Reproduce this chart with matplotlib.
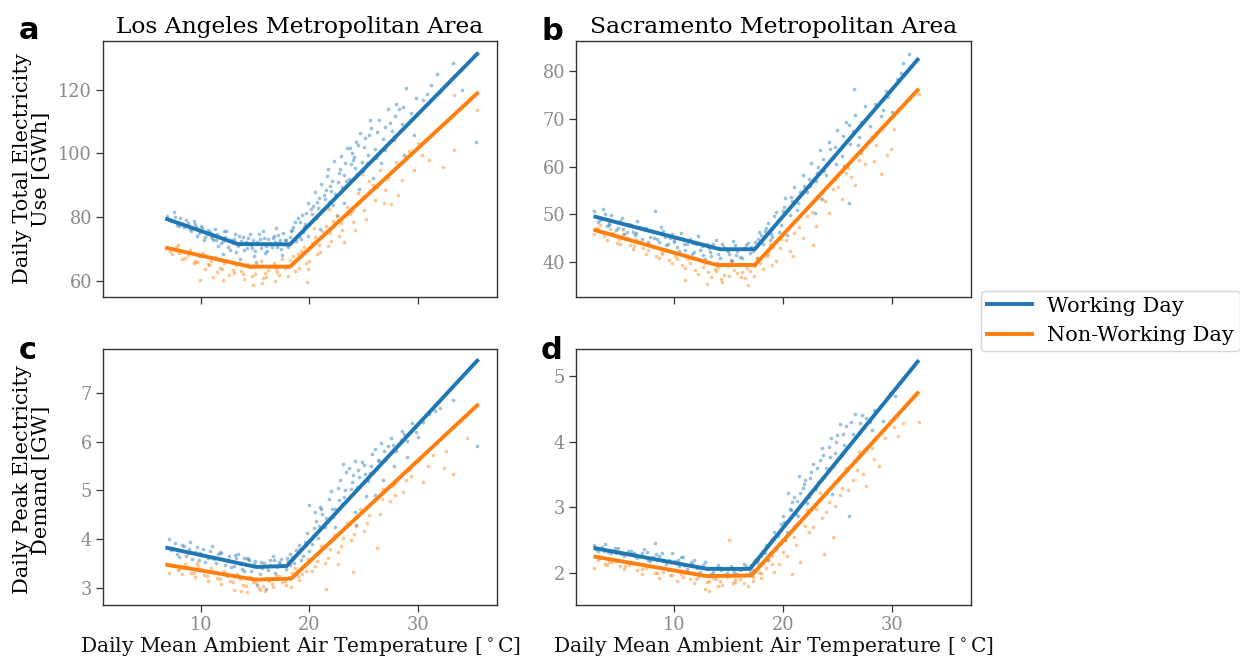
import matplotlib
matplotlib.use("Agg")
import matplotlib.pyplot as plt
from matplotlib.lines import Line2D

# ---------------- data ----------------
series_labels = ["Working Day", "Non-Working Day"]
titles = ["Los Angeles Metropolitan Area", "Sacramento Metropolitan Area"]
ylabels = ["Daily Total Electricity\nUse [GWh]", "Daily Peak Electricity\nDemand [GW]"]
xlabel = r"Daily Mean Ambient Air Temperature [$^\circ$C]"
panel_letters = ["a", "b", "c", "d"]
xticks = [10, 20, 30]

# Panel a: LA total use [GWh]
a_wd_T = [6.9, 7.2, 7.5, 7.8, 8.1, 8.4, 8.8, 9.1, 9.4, 9.8, 10.1, 10.4, 10.8, 11.1, 11.5, 11.8, 12.2, 12.5,
          12.8, 13.1, 13.4, 13.7, 14.0, 14.3, 14.6, 14.9, 15.2, 15.5, 15.8, 16.1, 16.4, 16.7, 17.0, 17.3,
          17.6, 17.9, 18.2, 18.5, 18.8, 19.1, 19.4, 19.7, 20.0, 20.3, 20.6, 20.9, 21.2, 21.5, 21.8, 22.1,
          22.4, 22.7, 23.0, 23.3, 23.6, 23.9, 24.2, 24.5, 24.8, 25.1, 25.4, 25.7, 26.0, 26.4, 26.8, 27.2,
          27.6, 28.0, 28.5, 28.9, 29.4, 29.8, 30.5, 31.2, 32.0, 33.2, 34.1, 35.4, 23.2, 24.6, 25.9, 21.0,
          22.5, 13.6, 15.1, 12.0, 16.9, 19.9, 21.6, 23.7,
          7.0, 7.6, 8.0, 8.6, 9.0, 9.3, 9.6, 10.0, 10.3, 10.6, 11.0, 11.3, 11.6, 12.0, 12.3, 12.7, 13.0,
          13.3, 13.9, 14.2, 14.5, 14.8, 15.0, 15.3, 15.6, 15.9, 16.2, 16.5, 16.8, 17.1, 17.4, 17.7, 18.0,
          18.3, 18.7, 19.0, 19.3, 19.6, 19.9, 20.2, 20.5, 20.8, 21.1, 21.4, 21.7, 22.0, 22.3, 22.6, 22.9,
          23.2, 23.5, 23.8, 24.1, 24.4, 24.7, 25.0, 25.3, 25.6, 26.2, 26.6, 27.0, 27.4, 27.8, 28.3, 28.7,
          9.5, 10.5, 11.4, 12.1, 12.9, 13.5, 14.1, 14.7, 15.4, 16.0, 16.6, 17.2, 17.8, 18.4, 18.9, 19.5,
          20.1, 20.7, 21.3, 21.9, 22.2, 22.8, 23.4, 24.0, 24.3, 24.9, 25.5, 26.1, 27.0, 27.9, 28.6, 29.6,
          30.8, 31.8, 8.3, 10.9, 13.2, 15.7, 17.5, 19.2]
a_wd_V = [80.5, 78.8, 81.5, 77.6, 79.6, 76.9, 78.2, 75.8, 77.9, 74.9, 76.6, 73.8, 75.4, 72.9, 74.6, 71.8, 73.9, 70.6,
          72.8, 74.8, 70.9, 72.6, 69.8, 73.4, 71.2, 67.9, 72.1, 70.3, 73.6, 69.5, 71.9, 74.2, 70.7, 72.8,
          75.1, 71.4, 73.9, 76.8, 72.6, 78.5, 75.3, 81.2, 77.4, 83.6, 79.8, 86.1, 82.3, 88.4, 84.7, 91.2,
          87.3, 93.8, 89.6, 96.9, 92.1, 100.2, 95.4, 102.7, 97.2, 104.8, 99.5, 107.9, 101.3, 110.4, 104.6, 113.8,
          106.9, 115.6, 109.2, 120.5, 112.7, 117.4, 116.8, 121.5, 119.3, 128.4, 119.8, 103.6, 84.6, 88.9, 92.3, 76.2,
          80.5, 66.8, 65.9, 68.4, 76.5, 74.1, 92.8, 101.6,
          79.2, 80.1, 77.1, 79.0, 76.4, 78.7, 74.2, 77.2, 72.8, 75.9, 73.5, 76.4, 70.9, 72.4, 75.8, 69.8, 73.3,
          71.6, 73.9, 70.5, 74.6, 72.9, 69.4, 74.8, 71.6, 68.8, 73.2, 70.6, 72.3, 74.4, 69.9, 73.0, 70.8,
          75.6, 78.4, 74.2, 80.6, 77.9, 84.3, 80.9, 87.8, 82.8, 90.4, 85.6, 95.1, 88.3, 97.6, 90.9, 99.3,
          93.2, 101.8, 96.7, 98.8, 93.6, 106.3, 101.9, 97.1, 110.6, 106.8, 96.9, 101.2, 109.5, 104.3, 113.9, 99.6,
          76.8, 74.6, 73.0, 75.6, 71.9, 74.0, 72.2, 70.2, 73.2, 71.0, 73.6, 71.8, 73.0, 76.0, 79.6, 76.9,
          82.5, 84.9, 87.0, 89.9, 83.8, 95.0, 91.3, 97.8, 103.6, 94.6, 105.6, 98.4, 108.2, 111.8, 114.6, 105.8,
          118.6, 124.8, 78.0, 74.0, 69.2, 75.8, 68.3, 73.2]
a_nwd_T = [6.8, 7.3, 7.9, 8.5, 9.0, 9.6, 10.2, 10.7, 11.3, 11.9, 12.4, 13.0, 13.5, 14.0, 14.5, 15.0, 15.5, 16.0,
           16.5, 17.0, 17.5, 18.0, 18.5, 19.0, 19.5, 20.0, 20.5, 21.0, 21.5, 22.0, 22.5, 23.0, 23.5, 24.0,
           24.5, 25.0, 25.5, 26.0, 26.5, 27.0, 27.5, 28.0, 28.5, 29.2, 30.0, 31.0, 32.3, 33.3, 33.3, 35.5,
           12.0, 14.8, 16.8, 19.8, 9.9, 21.8, 24.8,
           7.1, 7.7, 8.2, 8.8, 9.3, 9.8, 10.4, 10.9, 11.5, 12.1, 12.6, 13.2, 13.7, 14.2, 14.7, 15.2, 15.7,
           16.2, 16.7, 17.2, 17.7, 18.2, 18.7, 19.2, 19.7, 20.2, 20.7, 21.2, 21.7, 22.2, 22.7, 23.2, 23.7,
           24.2, 24.7, 25.2, 26.2, 27.2, 28.2, 29.6,
           8.0, 9.4, 10.6, 11.7, 12.9, 13.9, 14.9, 15.9, 16.9, 17.9, 18.9, 19.9, 20.9, 21.9, 22.9, 23.9,
           24.9, 25.9, 26.9, 27.9, 28.9, 30.4, 11.1, 15.6, 20.4]
a_nwd_V = [70.2, 68.5, 71.4, 67.2, 69.6, 66.1, 68.8, 64.9, 67.5, 63.8, 66.7, 62.4, 65.8, 60.6, 64.3, 62.1, 66.2, 61.2,
           64.8, 62.7, 66.9, 61.5, 67.8, 64.2, 70.6, 66.3, 73.9, 69.2, 77.1, 72.5, 80.8, 75.9, 83.2, 78.4,
           87.6, 82.1, 91.3, 85.4, 94.7, 88.6, 84.2, 97.2, 91.6, 100.8, 103.4, 97.9, 95.6, 101.2, 118.4, 113.5,
           60.3, 58.9, 60.1, 59.7, 60.3, 82.5, 93.4,
           69.4, 70.8, 66.9, 68.2, 65.7, 67.9, 63.9, 66.4, 62.8, 65.6, 61.9, 64.9, 63.1, 65.4, 61.6, 64.9, 60.9,
           63.6, 65.8, 61.9, 64.1, 66.7, 63.2, 69.4, 65.6, 71.8, 68.4, 75.6, 70.9, 78.9, 74.2, 72.1, 80.9,
           76.1, 84.9, 79.3, 89.6, 92.4, 86.9, 94.8,
           68.9, 66.4, 65.4, 64.2, 63.6, 62.2, 65.1, 62.6, 63.9, 64.8, 68.6, 63.9, 71.2, 74.9, 78.2, 81.9,
           86.2, 90.1, 84.6, 95.1, 98.9, 99.4, 61.4, 59.4, 76.6]
a_fit_T = [6.7, 13.4, 18.2, 35.6]
a_fit_wd = [79.6, 71.6, 71.5, 131.6]
a_fit_T2 = [6.7, 14.5, 18.2, 35.6]
a_fit_nwd = [70.5, 64.5, 64.5, 119.2]

# Panel b: Sacramento total use [GWh]
b_wd_T = [2.6, 3.0, 3.4, 3.8, 4.2, 4.6, 5.0, 5.4, 5.8, 6.2, 6.6, 7.0, 7.4, 7.8, 8.2, 8.6, 9.0, 9.4, 9.8, 10.2,
          10.6, 11.0, 11.4, 11.8, 12.2, 12.6, 13.0, 13.4, 13.8, 14.2, 14.6, 15.0, 15.4, 15.8, 16.2, 16.6,
          17.0, 17.4, 17.8, 18.2, 18.6, 19.0, 19.4, 19.8, 20.2, 20.6, 21.0, 21.4, 21.8, 22.2, 22.6, 23.0,
          23.4, 23.8, 24.2, 24.6, 25.0, 25.4, 25.8, 26.2, 26.6, 27.0, 27.5, 28.0, 28.5, 29.0, 29.5, 30.0,
          30.5, 31.0, 31.6, 26.5, 26.1, 30.9, 20.4, 22.9,
          3.2, 3.6, 4.0, 4.4, 4.8, 5.2, 5.6, 6.0, 6.4, 6.8, 7.2, 7.6, 8.0, 8.4, 8.8, 9.2, 9.6, 10.0, 10.4,
          10.8, 11.2, 11.6, 12.0, 12.4, 12.8, 13.2, 13.6, 14.0, 14.4, 14.8, 15.2, 15.6, 16.0, 16.4, 16.8,
          17.2, 17.6, 18.0, 18.4, 18.8, 19.2, 19.6, 20.0, 20.8, 21.6, 22.4, 23.2, 24.0, 24.8, 25.6, 26.4,
          27.2, 28.2, 29.2,
          4.0, 5.3, 6.5, 7.3, 8.1, 9.1, 10.0, 10.9, 11.7, 12.5, 13.3, 14.1, 14.9, 15.7, 16.5, 17.1, 17.7,
          18.3, 18.9, 19.5, 20.1, 20.7, 21.3, 21.9, 22.5, 23.1, 23.7, 24.3, 24.9, 25.5, 26.1, 26.9, 27.7,
          28.7, 29.7, 13.9, 15.3, 16.1, 21.0, 23.6]
b_wd_V = [50.8, 48.4, 51.2, 47.6, 49.9, 46.8, 48.7, 45.9, 47.9, 46.3, 48.6, 44.8, 47.2, 45.3, 50.8, 44.2, 46.6, 43.7, 45.8, 43.1,
          46.1, 42.6, 44.9, 42.2, 45.4, 41.5, 43.8, 41.2, 44.6, 40.9, 43.1, 41.6, 44.4, 42.3, 40.8, 43.5,
          41.9, 44.2, 46.3, 43.9, 48.1, 45.2, 50.6, 47.8, 53.4, 49.9, 55.7, 52.3, 58.2, 54.6, 60.8, 56.9,
          63.4, 59.1, 65.2, 61.7, 67.6, 62.3, 69.4, 64.8, 70.9, 66.1, 72.6, 68.4, 73.1, 70.7, 75.9, 71.4,
          78.3, 81.6, 83.5, 76.3, 52.4, 79.7, 45.6, 50.2,
          48.9, 50.1, 47.8, 48.6, 47.2, 49.3, 46.4, 47.7, 45.6, 47.4, 46.9, 44.2, 46.6, 44.9, 47.3, 43.6, 45.1, 44.7, 42.4,
          44.8, 43.7, 41.8, 43.9, 42.6, 40.6, 42.9, 43.9, 41.8, 43.8, 42.6, 40.4, 43.6, 41.1, 42.9, 44.1,
          42.4, 40.9, 45.6, 47.2, 44.6, 49.6, 46.4, 50.8, 52.9, 54.6, 57.4, 59.9, 58.3, 64.1, 60.1, 67.4,
          69.3, 66.2, 71.9,
          48.1, 47.0, 46.2, 46.8, 45.0, 45.3, 44.2, 43.8, 44.1, 43.3, 42.1, 43.0, 42.4, 41.4, 42.7, 43.2, 44.8,
          46.6, 45.9, 48.7, 51.6, 53.6, 50.9, 56.0, 55.9, 58.7, 61.5, 63.6, 60.6, 66.4, 68.8, 64.6, 70.2,
          72.9, 74.6, 39.8, 40.2, 39.6, 48.6, 53.3]
b_nwd_T = [2.6, 3.2, 3.8, 4.4, 5.0, 5.6, 6.2, 6.8, 7.4, 8.0, 8.6, 9.2, 9.8, 10.4, 11.0, 11.6, 12.2, 12.8, 13.4,
           14.0, 14.6, 15.2, 15.8, 16.4, 16.8, 17.0, 17.6, 18.2, 18.8, 19.4, 20.0, 20.6, 21.2, 21.8, 22.4,
           23.0, 23.6, 24.2, 24.8, 25.4, 26.0, 26.6, 27.2, 27.8, 28.4, 29.0, 29.6, 30.2, 30.8, 32.5, 11.0,
           13.0, 19.0, 22.8,
           2.9, 3.5, 4.1, 4.7, 5.3, 5.9, 6.5, 7.1, 7.7, 8.3, 8.9, 9.5, 10.1, 10.7, 11.3, 11.9, 12.5, 13.1,
           13.7, 14.3, 14.9, 15.5, 16.1, 16.7, 17.3, 17.9, 18.5, 19.1, 19.7, 20.3, 21.5, 22.7, 23.9, 25.1,
           26.3, 27.5,
           3.4, 4.9, 6.3, 7.6, 8.9, 10.2, 11.4, 12.6, 13.8, 15.0, 16.2, 17.4, 18.6, 19.8, 21.0, 22.2, 23.4,
           24.6, 25.8, 27.0, 28.6, 29.9, 14.4, 16.5, 20.9]
b_nwd_V = [45.9, 47.8, 44.6, 46.2, 43.8, 45.1, 42.7, 44.3, 41.6, 43.4, 40.8, 42.6, 39.9, 41.8, 38.7, 40.9, 37.6, 39.8, 36.9,
           38.9, 37.4, 40.1, 37.8, 39.6, 35.3, 38.2, 40.9, 38.6, 43.7, 40.2, 45.8, 42.4, 48.9, 45.1, 51.7,
           47.6, 54.6, 50.3, 57.4, 53.2, 59.8, 56.1, 62.9, 65.4, 61.2, 58.5, 62.4, 67.8, 72.3, 75.3, 36.2,
           35.5, 39.4, 43.5,
           47.1, 45.4, 46.9, 44.1, 45.9, 43.6, 44.9, 42.9, 43.8, 41.2, 42.1, 40.4, 41.3, 39.4, 40.6, 38.4, 40.2, 37.9,
           38.6, 36.4, 39.2, 38.3, 36.9, 38.8, 37.1, 39.9, 41.2, 43.1, 42.9, 44.6, 47.3, 50.4, 52.9, 55.8,
           57.9, 60.6,
           46.4, 44.9, 43.4, 42.6, 41.6, 40.7, 39.9, 39.0, 38.1, 37.0, 38.0, 39.1, 41.8, 44.8, 46.2, 49.6, 53.4,
           55.4, 58.6, 61.4, 64.6, 63.6, 35.9, 36.6, 41.2]
b_fit_T = [2.56, 14.2, 17.4, 32.5]
b_fit_wd = [49.6, 42.7, 42.7, 82.7]
b_fit_T2 = [2.56, 13.9, 17.4, 32.5]
b_fit_nwd = [46.8, 39.4, 39.4, 76.3]

# Panel c: LA peak demand [GW]
c_wd_T = [7.0, 7.4, 7.8, 8.2, 8.6, 9.0, 9.4, 9.8, 10.2, 10.6, 11.0, 11.4, 11.8, 12.2, 12.6, 13.0, 13.4, 13.8,
          14.2, 14.6, 15.0, 15.4, 15.8, 16.2, 16.6, 17.0, 17.4, 17.8, 18.2, 18.6, 19.0, 19.4, 19.8, 20.2,
          20.6, 21.0, 21.4, 21.8, 22.2, 22.6, 23.0, 23.4, 23.8, 24.2, 24.6, 25.0, 25.4, 25.8, 26.2, 26.6,
          27.0, 27.5, 28.0, 28.5, 29.0, 29.5, 30.0, 31.0, 32.0, 33.2, 35.5, 12.0, 15.2, 16.0, 20.0, 24.3,
          26.0, 21.1, 23.1,
          7.2, 7.6, 8.0, 8.4, 8.8, 9.2, 9.6, 10.0, 10.4, 10.8, 11.2, 11.6, 12.4, 12.8, 13.2, 13.6, 14.0,
          14.4, 14.8, 15.6, 16.4, 16.8, 17.2, 17.6, 18.0, 18.4, 18.8, 19.2, 19.6, 20.0, 20.4, 20.8, 21.2,
          21.6, 22.0, 22.4, 22.8, 23.2, 23.6, 24.0, 24.4, 24.8, 25.2, 25.6, 26.0, 26.4, 26.8, 27.2, 27.8,
          28.4, 29.0, 29.8,
          8.9, 9.9, 10.9, 11.7, 12.5, 13.1, 13.7, 14.3, 14.9, 15.5, 16.1, 16.7, 17.3, 17.9, 18.5, 19.1,
          19.7, 20.3, 20.9, 21.5, 22.1, 22.7, 23.3, 23.9, 24.5, 25.1, 25.7, 26.3, 26.9, 27.7, 28.7, 29.7,
          30.5, 31.6, 14.0, 16.4, 18.2, 22.4, 24.2, 20.5]
c_wd_V = [4.0, 3.82, 3.7, 3.88, 3.66, 3.94, 3.74, 3.58, 3.8, 3.62, 3.86, 3.52, 3.72, 3.48, 3.66, 3.44, 3.7, 3.38,
          3.62, 3.34, 3.56, 3.28, 3.52, 3.36, 3.66, 3.42, 3.6, 3.38, 3.7, 3.52, 3.88, 3.66, 4.12, 3.9,
          4.38, 4.66, 4.24, 4.82, 4.46, 5.04, 4.72, 5.38, 5.02, 5.6, 5.28, 5.52, 5.2, 5.74, 5.46, 5.98,
          5.62, 6.08, 5.8, 6.22, 6.02, 6.38, 6.1, 6.56, 6.7, 6.86, 5.92, 3.3, 3.05, 2.98, 4.7, 4.3,
          4.9, 4.62, 5.55,
          3.78, 3.92, 3.64, 3.86, 3.72, 3.6, 3.84, 3.68, 3.54, 3.76, 3.6, 3.7, 3.56, 3.42, 3.62, 3.5, 3.34,
          3.58, 3.46, 3.4, 3.48, 3.3, 3.54, 3.46, 3.56, 3.62, 3.78, 3.58, 3.94, 3.76, 4.22, 4.02, 4.52,
          4.36, 4.98, 4.62, 5.22, 4.86, 5.46, 5.32, 5.06, 5.58, 4.88, 5.36, 5.84, 5.6, 5.22, 5.92, 5.5,
          6.04, 5.68, 6.2,
          3.8, 3.72, 3.64, 3.74, 3.58, 3.68, 3.52, 3.6, 3.5, 3.54, 3.44, 3.58, 3.5, 3.62, 3.64, 3.8,
          3.88, 4.06, 4.28, 4.44, 4.62, 4.8, 5.0, 5.18, 5.42, 5.34, 5.5, 5.62, 5.8, 5.94, 6.16, 6.3,
          6.4, 6.62, 3.62, 3.58, 3.48, 4.24, 4.56, 4.56]
c_nwd_T = [7.0, 7.6, 8.2, 8.8, 9.4, 10.0, 10.6, 11.2, 11.8, 12.4, 13.0, 13.6, 14.2, 14.8, 15.4, 16.0, 16.6,
           17.2, 17.8, 18.4, 19.0, 19.6, 20.2, 20.8, 21.4, 22.0, 22.6, 23.2, 23.8, 24.4, 25.0, 25.6, 26.2,
           26.8, 27.4, 28.0, 28.6, 29.2, 30.0, 30.5, 31.4, 32.4, 33.2, 34.5, 9.6, 21.5, 24.0,
           7.3, 7.9, 8.5, 9.1, 9.7, 10.3, 10.9, 11.5, 12.1, 12.7, 13.3, 13.9, 14.5, 15.1, 15.7, 16.3, 16.9,
           17.5, 18.1, 18.7, 19.3, 19.9, 20.5, 21.1, 21.7, 22.3, 22.9, 23.5, 24.1, 24.7, 25.3, 26.5, 27.7, 28.9,
           8.0, 9.3, 10.5, 11.7, 12.9, 14.1, 15.3, 16.5, 17.7, 18.9, 19.7, 20.7, 21.9, 23.1, 24.3, 25.5,
           26.7, 27.9, 29.4, 30.9, 32.6, 13.7, 15.9, 18.3, 22.6]
c_nwd_V = [3.3, 3.46, 3.28, 3.42, 3.22, 3.38, 3.14, 3.32, 3.08, 3.24, 2.96, 3.18, 2.92, 3.12, 2.96, 3.2, 3.02,
           3.24, 3.06, 3.3, 3.16, 3.48, 3.34, 3.72, 3.52, 3.96, 3.74, 4.22, 3.98, 4.48, 4.16, 4.72, 3.82,
           5.02, 4.78, 5.18, 4.96, 5.42, 5.6, 5.18, 5.72, 5.46, 5.34, 6.08, 3.52, 2.98, 3.32,
           3.44, 3.36, 3.5, 3.3, 3.44, 3.26, 3.4, 3.2, 3.34, 3.14, 3.28, 3.06, 3.22, 3.1, 3.04, 3.14, 3.26,
           3.12, 3.22, 3.4, 3.28, 3.6, 3.44, 3.86, 3.62, 4.08, 3.86, 4.34, 4.1, 4.62, 4.34, 4.52, 5.1, 5.22,
           3.38, 3.3, 3.24, 3.18, 3.12, 3.04, 3.0, 3.08, 3.14, 3.24, 3.34, 3.56, 3.8, 4.02, 4.26, 4.5,
           4.82, 4.9, 5.3, 5.5, 5.8, 2.94, 2.94, 3.02, 3.5]
c_fit_T = [6.7, 15.1, 17.9, 35.6]
c_fit_wd = [3.83, 3.43, 3.45, 7.69]
c_fit_T2 = [6.7, 15.0, 18.3, 35.6]
c_fit_nwd = [3.48, 3.17, 3.19, 6.77]

# Panel d: Sacramento peak demand [GW]
d_wd_T = [2.6, 3.0, 3.6, 4.2, 4.8, 5.4, 6.0, 6.6, 7.2, 7.8, 8.2, 8.6, 9.2, 9.8, 10.4, 10.8, 11.2, 11.8, 12.4,
          12.8, 13.4, 14.0, 14.6, 15.2, 15.8, 16.4, 17.0, 17.4, 17.8, 18.2, 18.6, 19.0, 19.4, 19.8, 20.2,
          20.6, 21.0, 21.4, 21.8, 22.2, 22.6, 23.0, 23.4, 23.8, 24.2, 24.6, 25.0, 25.4, 25.8, 26.2, 26.6,
          27.0, 27.6, 28.2, 28.6, 29.2, 29.8, 30.3, 26.1, 24.5, 21.5,
          2.8, 3.3, 3.9, 4.5, 5.1, 5.7, 6.3, 6.9, 7.5, 8.0, 8.4, 8.9, 9.5, 10.1, 10.6, 11.0, 11.5, 12.1,
          12.6, 13.1, 13.7, 14.3, 14.9, 15.5, 16.1, 16.7, 17.2, 17.6, 18.0, 18.4, 18.8, 19.2, 19.6, 20.0,
          20.4, 20.8, 21.2, 21.6, 22.0, 22.4, 22.8, 23.2, 23.6, 24.0, 24.4, 24.8, 25.2, 25.6, 26.4, 27.3, 28.0,
          3.5, 4.6, 5.6, 6.4, 7.0, 7.6, 8.3, 9.0, 9.7, 10.3, 10.9, 11.6, 12.2, 12.9, 13.6, 14.2, 14.8,
          15.4, 16.0, 16.6, 17.1, 17.7, 18.3, 18.9, 19.5, 20.1, 20.7, 21.3, 21.9, 22.5, 23.1, 23.7, 24.3,
          24.9, 25.5, 26.3, 27.1, 28.4, 29.0, 20.5]
d_wd_V = [2.42, 2.34, 2.44, 2.3, 2.38, 2.26, 2.34, 2.22, 2.36, 2.18, 2.46, 2.26, 2.14, 2.3, 2.1, 2.24, 2.06, 2.2, 2.02,
          2.16, 1.98, 2.12, 1.96, 2.1, 1.98, 2.14, 2.02, 2.2, 2.12, 2.34, 2.2, 2.52, 2.36, 2.74, 2.5,
          2.98, 3.16, 2.86, 3.3, 3.06, 3.54, 3.28, 3.72, 3.46, 3.92, 3.62, 4.1, 3.8, 4.24, 3.96, 4.42,
          4.12, 4.36, 4.18, 4.46, 4.32, 4.74, 4.7, 2.86, 3.2, 3.48,
          2.36, 2.4, 2.32, 2.38, 2.28, 2.34, 2.3, 2.26, 2.32, 2.24, 2.2, 2.3, 2.2, 2.18, 2.24, 2.12, 2.16, 2.08,
          2.12, 2.06, 2.08, 2.04, 2.06, 2.02, 2.06, 2.08, 2.04, 2.16, 2.26, 2.42, 2.3, 2.62, 2.44, 2.86,
          2.62, 3.08, 2.9, 3.22, 3.42, 3.16, 3.66, 3.38, 3.9, 3.6, 4.06, 3.82, 4.26, 3.94, 4.12, 4.4, 4.3,
          2.34, 2.3, 2.28, 2.26, 2.3, 2.2, 2.28, 2.2, 2.16, 2.2, 2.12, 2.14, 2.1, 2.08, 2.02, 2.08, 2.0,
          2.06, 2.04, 2.1, 2.12, 2.2, 2.3, 2.48, 2.56, 2.78, 2.96, 3.1, 3.36, 3.44, 3.6, 3.8, 3.76,
          4.0, 4.12, 4.3, 4.28, 4.48, 4.56, 3.22]
d_nwd_T = [2.6, 3.2, 3.8, 4.6, 5.4, 6.2, 7.0, 7.8, 8.6, 9.4, 10.2, 11.0, 11.8, 12.6, 13.2, 13.8, 14.4, 15.0,
           15.6, 16.2, 16.8, 17.4, 18.0, 18.6, 19.2, 19.8, 20.4, 21.0, 21.6, 22.2, 22.8, 23.4, 24.0, 24.6,
           25.2, 25.8, 26.4, 27.0, 27.6, 28.2, 28.8, 29.4, 30.2, 31.0, 32.5, 20.8, 23.8,
           3.0, 3.6, 4.3, 5.0, 5.8, 6.6, 7.4, 8.2, 9.0, 9.8, 10.6, 11.4, 12.2, 13.0, 13.6, 14.2, 14.8,
           15.4, 16.0, 16.6, 17.2, 17.8, 18.4, 19.0, 19.6, 20.2, 21.2, 22.4, 23.6, 24.8, 26.0, 27.4,
           4.0, 5.5, 7.0, 8.4, 9.6, 10.8, 12.0, 13.2, 14.0, 14.8, 15.6, 16.4, 17.2, 18.0, 19.0, 20.0,
           21.0, 22.0, 23.0, 24.2, 25.4, 26.8, 28.4, 30.6, 12.8]
d_nwd_V = [2.08, 2.22, 2.12, 2.18, 2.06, 2.14, 1.98, 2.1, 1.92, 2.04, 1.88, 2.0, 1.84, 1.96, 1.72, 1.9, 1.82, 2.5,
           1.86, 1.96, 1.8, 2.04, 1.92, 2.2, 2.02, 2.46, 2.26, 2.72, 2.16, 2.96, 2.7, 3.22, 2.92, 2.54,
           3.18, 3.6, 3.42, 3.84, 3.32, 3.9, 3.62, 4.06, 4.22, 4.28, 4.3, 1.98, 2.28,
           2.2, 2.14, 2.16, 2.1, 2.12, 2.04, 2.08, 2.0, 2.02, 1.96, 1.98, 1.9, 1.94, 1.86, 1.92, 1.88, 1.94,
           1.84, 1.9, 1.98, 1.88, 2.0, 2.08, 2.26, 2.14, 2.5, 2.42, 2.62, 2.84, 3.02, 3.26, 3.5,
           2.16, 2.1, 2.06, 2.0, 1.96, 1.94, 1.9, 1.88, 1.8, 1.96, 1.9, 1.84, 1.94, 2.0, 2.14, 2.32,
           2.54, 2.72, 2.98, 3.08, 3.3, 3.56, 3.74, 4.08, 1.76]
d_fit_T = [2.56, 13.0, 16.95, 32.5]
d_fit_wd = [2.38, 2.06, 2.06, 5.24]
d_fit_T2 = [2.56, 13.0, 17.1, 32.5]
d_fit_nwd = [2.25, 1.95, 1.96, 4.76]

ylims = [(55, 135.2), (32.7, 86.3), (2.65, 7.9), (1.51, 5.41)]
yticks = [[60, 80, 100, 120], [40, 50, 60, 70, 80], [3, 4, 5, 6, 7], [2, 3, 4, 5]]

# ---------------- style ----------------
BLUE = "#1f77b4"
ORANGE = "#ff7f0e"
SERIF = "DejaVu Serif"
TICKGREY = "#8a8a8a"
SPINE = "#333333"

fig = plt.figure(figsize=(12.4, 6.57), dpi=100)
W, H = 1240, 657

def rect(l, t, r, b):
    return [l / W, 1 - b / H, (r - l) / W, (b - t) / H]

ax_a = fig.add_axes(rect(103, 41, 497, 297))
ax_b = fig.add_axes(rect(576, 41, 971, 297), sharex=ax_a)
ax_c = fig.add_axes(rect(103, 349, 497, 605), sharex=ax_a)
ax_d = fig.add_axes(rect(576, 349, 971, 605), sharex=ax_a)
axes = [ax_a, ax_b, ax_c, ax_d]

panels = [
    (a_wd_T, a_wd_V, a_nwd_T, a_nwd_V, a_fit_T, a_fit_wd, a_fit_T2, a_fit_nwd),
    (b_wd_T, b_wd_V, b_nwd_T, b_nwd_V, b_fit_T, b_fit_wd, b_fit_T2, b_fit_nwd),
    (c_wd_T, c_wd_V, c_nwd_T, c_nwd_V, c_fit_T, c_fit_wd, c_fit_T2, c_fit_nwd),
    (d_wd_T, d_wd_V, d_nwd_T, d_nwd_V, d_fit_T, d_fit_wd, d_fit_T2, d_fit_nwd),
]

for i, (ax, p) in enumerate(zip(axes, panels)):
    wT, wV, nT, nV, fT, fW, fT2, fN = p
    ax.scatter(wT, wV, s=7, color=BLUE, alpha=0.45, linewidths=0, zorder=2)
    ax.scatter(nT, nV, s=7, color=ORANGE, alpha=0.45, linewidths=0, zorder=2)
    ax.plot(fT, fW, color=BLUE, lw=2.8, zorder=4, solid_capstyle="butt")
    ax.plot(fT2, fN, color=ORANGE, lw=2.8, zorder=4, solid_capstyle="butt")
    ax.set_ylim(*ylims[i])
    ax.set_yticks(yticks[i])
    ax.set_xticks(xticks)
    for s in ax.spines.values():
        s.set_color(SPINE)
        s.set_linewidth(1.0)
    ax.tick_params(axis="both", colors=SPINE, labelcolor=TICKGREY, labelsize=12.8,
                   length=5, width=0.9, direction="out", pad=3)
    for lab in ax.get_xticklabels() + ax.get_yticklabels():
        lab.set_fontfamily(SERIF)

ax_a.set_xlim(0.95, 37.3)
for ax in (ax_a, ax_b):
    ax.tick_params(labelbottom=False)
for ax in (ax_c, ax_d):
    ax.set_xlabel(xlabel, fontsize=14.6, family=SERIF, color="#111111", labelpad=1)

ax_a.set_title(titles[0], fontsize=16.8, family=SERIF, pad=6)
ax_b.set_title(titles[1], fontsize=16.8, family=SERIF, pad=6)

fig.text(32 / W, 1 - 169 / H, ylabels[0], rotation=90, ha="center", va="center",
         multialignment="center", fontsize=15, family=SERIF, linespacing=1.0)
fig.text(32 / W, 1 - 480 / H, ylabels[1], rotation=90, ha="center", va="center",
         multialignment="center", fontsize=15, family=SERIF, linespacing=1.0)

letter_pos = [(19, 39), (541, 40), (19, 359), (541, 359)]
for L, (x, y) in zip(panel_letters, letter_pos):
    fig.text(x / W, 1 - y / H, L, fontsize=22, fontweight="bold", family="DejaVu Sans",
             ha="left", va="baseline")

handles = [Line2D([], [], color=BLUE, lw=2.8), Line2D([], [], color=ORANGE, lw=2.8)]
fig.legend(handles, series_labels, loc="center left", bbox_to_anchor=(981 / W, 1 - 321 / H),
           prop={"family": SERIF, "size": 15}, frameon=True, fancybox=True,
           edgecolor="#cccccc", handlelength=2.15, handletextpad=0.7, borderpad=0.3,
           labelspacing=0.5, borderaxespad=0.0)

fig.savefig("out.png", dpi=100)
